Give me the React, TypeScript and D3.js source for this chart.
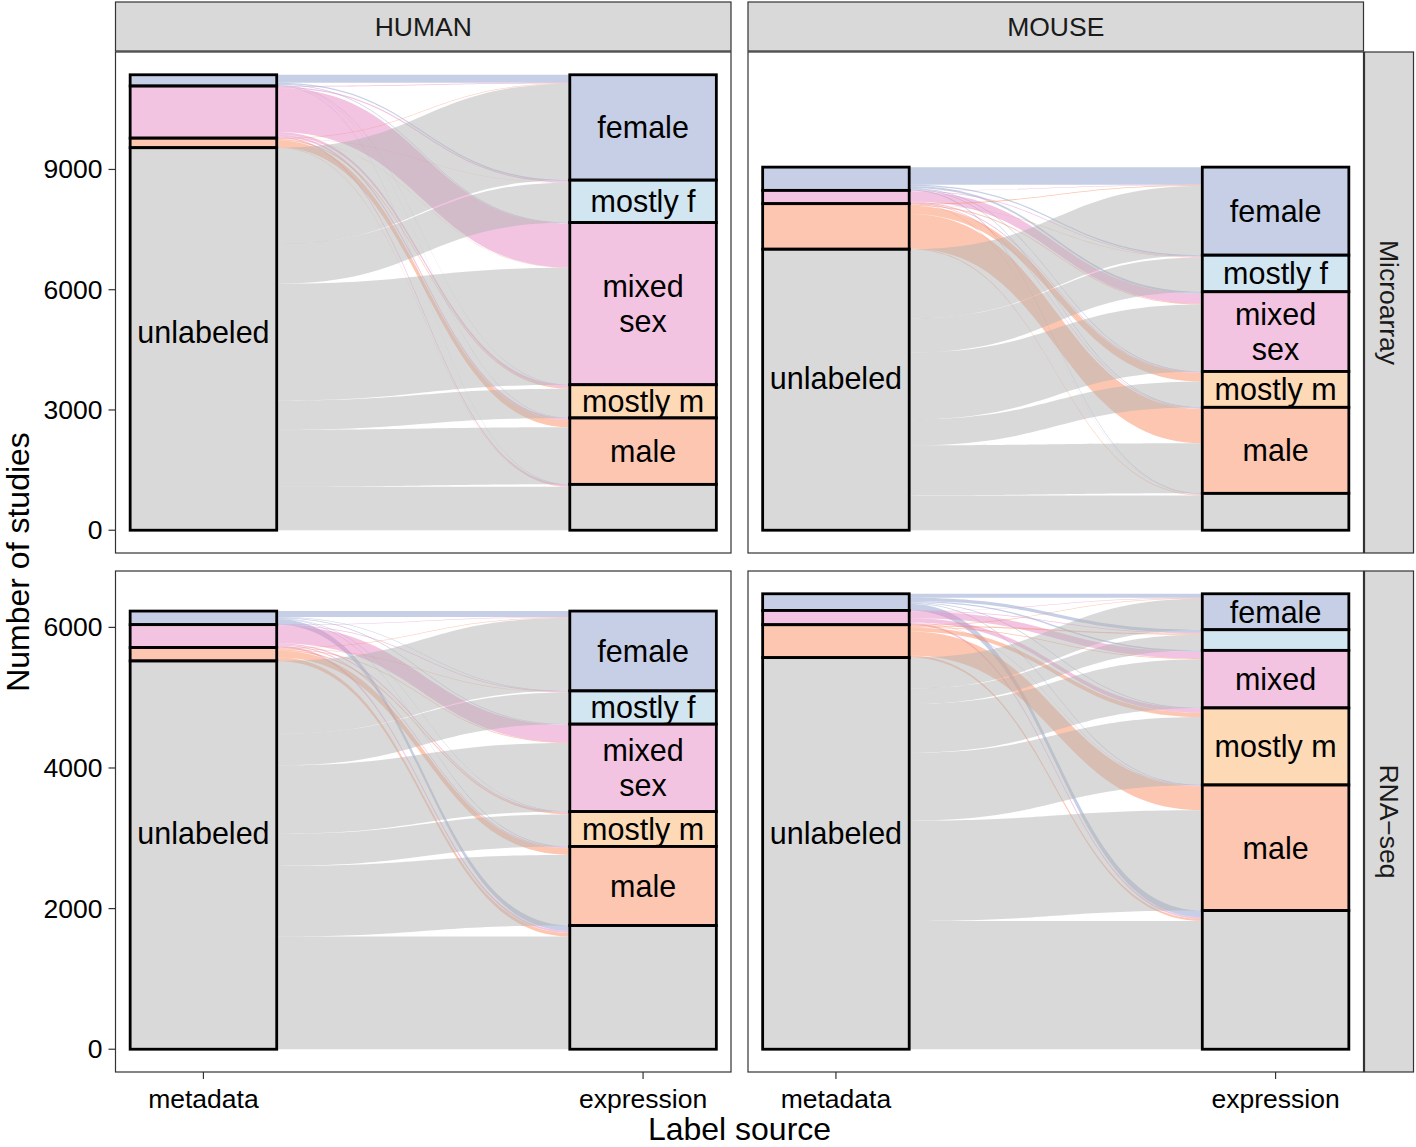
import React from "react";
import * as d3 from "d3";

// ---------- data ----------
const metadataCategories = ["female", "mixed sex", "male", "unlabeled"];
const expressionCategories = ["female", "mostly f", "mixed sex", "mostly m", "male", "unlabeled"];
const speciesNames = ["HUMAN", "MOUSE"];
const platformNames = ["Microarray", "RNA\u2212seq"];
const axisNames = ["metadata", "expression"];

// flows: rows = metadata stratum, columns = expression stratum
const humanMicroarrayFlows = [
  [200, 30, 20, 10, 10, 10],
  [20, 30, 1100, 60, 50, 40],
  [10, 5, 10, 30, 174, 10],
  [2398, 994, 2915, 728, 1424, 1084],
];
const mouseMicroarrayFlows = [
  [440, 30, 50, 20, 20, 20],
  [10, 20, 250, 20, 20, 11],
  [20, 10, 20, 210, 856, 20],
  [1726, 852, 1669, 645, 1250, 869],
];
const humanRnaseqFlows = [
  [85, 8, 10, 5, 10, 75],
  [5, 11, 250, 15, 15, 30],
  [8, 5, 10, 20, 95, 52],
  [1037, 449, 974, 456, 1005, 1602],
];
const mouseRnaseqFlows = [
  [57, 45, 20, 10, 10, 95],
  [5, 10, 95, 60, 10, 23],
  [10, 18, 10, 60, 340, 30],
  [439, 221, 693, 966, 1427, 1824],
];

const microarrayTicks = [0, 3000, 6000, 9000];
const rnaseqTicks = [0, 2000, 4000, 6000];

const metadataLabels = ["", "", "", "unlabeled"];
const expressionLabels = ["female", "mostly f", "mixed\nsex", "mostly m", "male", ""];
const expressionLabelsMouseRnaseq = ["female", "", "mixed", "mostly m", "male", ""];

const categoryColors: Record<string, string> = {
  female: "#8DA0CB",
  "mostly f": "#A6CEE3",
  "mixed sex": "#E78AC3",
  "mostly m": "#FBB36B",
  male: "#FC8D62",
  unlabeled: "#B3B3B3",
};

// ---------- layout ----------
const W = 1416;
const H = 1147;
const FONT = "'Liberation Sans', Arial, Helvetica, sans-serif";
const colLeft = [115.5, 748];
const panelW = 615.5;
const rowTop = [52, 571];
const panelH = 501;
const stripSize = 49;

type Panel = {
  row: number;
  col: number;
  flows: number[][];
  exprLabels: string[];
  metaLabelNudge: number; // px, vertical nudge of the metadata label
};

const panels: Panel[] = [
  { row: 0, col: 0, flows: humanMicroarrayFlows, exprLabels: expressionLabels, metaLabelNudge: -7 },
  { row: 0, col: 1, flows: mouseMicroarrayFlows, exprLabels: expressionLabels, metaLabelNudge: -12 },
  { row: 1, col: 0, flows: humanRnaseqFlows, exprLabels: expressionLabels, metaLabelNudge: -22 },
  { row: 1, col: 1, flows: mouseRnaseqFlows, exprLabels: expressionLabelsMouseRnaseq, metaLabelNudge: -20 },
];
const rowTicks = [microarrayTicks, rnaseqTicks];

const sum = (a: number[]) => a.reduce((s, v) => s + v, 0);
const panelTotal = (f: number[][]) => sum(f.map((r) => sum(r)));

const rowMax = [0, 1].map((r) =>
  d3.max(panels.filter((p) => p.row === r), (p) => panelTotal(p.flows)) as number
);
const yScales = [0, 1].map((r) =>
  d3
    .scaleLinear()
    .domain([-0.05 * rowMax[r], 1.05 * rowMax[r]])
    .range([rowTop[r] + panelH, rowTop[r]])
);
const xScales = [0, 1].map((c) =>
  d3.scaleLinear().domain([0.8, 2.2]).range([colLeft[c], colLeft[c] + panelW])
);
const boxWidthUnits = 1 / 3;

function ribbon(x0: number, x1: number, s0: number, s1: number, d0: number, d1: number) {
  const xm = (x0 + x1) / 2;
  return `M${x0},${s0}C${xm},${s0} ${xm},${d0} ${x1},${d0}L${x1},${d1}C${xm},${d1} ${xm},${s1} ${x0},${s1}Z`;
}

// stacked strata: first category at top
function strataBounds(values: number[]) {
  const out: { top: number; bottom: number }[] = [];
  let acc = sum(values);
  for (const v of values) {
    out.push({ top: acc, bottom: acc - v });
    acc -= v;
  }
  return out;
}

function PanelView({ p }: { p: Panel }) {
  const y = yScales[p.row];
  const x = xScales[p.col];
  const metaTotals = p.flows.map((r) => sum(r));
  const exprTotals = expressionCategories.map((_, j) => sum(p.flows.map((r) => r[j])));
  const metaB = strataBounds(metaTotals);
  const exprB = strataBounds(exprTotals);
  const mx = x(1);
  const ex = x(2);
  const halfW = (x(1 + boxWidthUnits) - x(1)) / 2;
  const x0 = mx + halfW;
  const x1 = ex - halfW;

  const ribbons: { d: string; color: string }[] = [];
  p.flows.forEach((row, i) => {
    row.forEach((v, j) => {
      if (v <= 0) return;
      const sTop = metaB[i].top - sum(row.slice(0, j));
      const dTop = exprB[j].top - sum(p.flows.slice(0, i).map((r) => r[j]));
      ribbons.push({
        d: ribbon(x0, x1, y(sTop), y(sTop - v), y(dTop), y(dTop - v)),
        color: categoryColors[metadataCategories[i]],
      });
    });
  });

  const labelSize = 30.5;
  const renderLabel = (text: string, cx: number, cy: number, key: string) => {
    if (!text) return null;
    const lines = text.split("\n");
    const lh = 35;
    return (
      <text
        key={key}
        x={cx}
        textAnchor="middle"
        fontFamily={FONT}
        fontSize={labelSize}
        fill="#000"
      >
        {lines.map((ln, k) => (
          <tspan key={k} x={cx} y={cy + (k - (lines.length - 1) / 2) * lh} dominantBaseline="central">
            {ln}
          </tspan>
        ))}
      </text>
    );
  };

  return (
    <g>
      <rect
        x={colLeft[p.col]}
        y={rowTop[p.row]}
        width={panelW}
        height={panelH}
        fill="#FFFFFF"
      />
      <g>
        {ribbons.map((r, k) => (
          <path key={k} d={r.d} fill={r.color} fillOpacity={0.5} stroke="none" />
        ))}
      </g>
      {metaB.map((b, i) => (
        <rect
          key={"m" + i}
          x={mx - halfW}
          y={y(b.top)}
          width={halfW * 2}
          height={y(b.bottom) - y(b.top)}
          fill={categoryColors[metadataCategories[i]]}
          fillOpacity={0.5}
          stroke="#000"
          strokeWidth={2.8}
        />
      ))}
      {exprB.map((b, j) => (
        <rect
          key={"e" + j}
          x={ex - halfW}
          y={y(b.top)}
          width={halfW * 2}
          height={y(b.bottom) - y(b.top)}
          fill={categoryColors[expressionCategories[j]]}
          fillOpacity={0.5}
          stroke="#000"
          strokeWidth={2.8}
        />
      ))}
      {metaB.map((b, i) =>
        renderLabel(metadataLabels[i], mx, (y(b.top) + y(b.bottom)) / 2 + p.metaLabelNudge, "ml" + i)
      )}
      {exprB.map((b, j) => renderLabel(p.exprLabels[j], ex, (y(b.top) + y(b.bottom)) / 2, "el" + j))}
      <rect
        x={colLeft[p.col]}
        y={rowTop[p.row]}
        width={panelW}
        height={panelH}
        fill="none"
        stroke="#333333"
        strokeWidth={1.2}
      />
    </g>
  );
}

export default function App() {
  const axisText = 26.5;
  const midY = (rowTop[0] + rowTop[1] + panelH) / 2;
  return (
    <svg
      width={W}
      height={H}
      viewBox={`0 0 ${W} ${H}`}
      style={{ position: "absolute", left: 0, top: 0, background: "#fff" }}
    >
      <rect x={0} y={0} width={W} height={H} fill="#fff" />
      {panels.map((p, k) => (
        <PanelView key={k} p={p} />
      ))}

      {/* top strips */}
      {speciesNames.map((s, c) => (
        <g key={s}>
          <rect
            x={colLeft[c]}
            y={rowTop[0] - stripSize - 1}
            width={panelW}
            height={stripSize}
            fill="#D9D9D9"
            stroke="#333333"
            strokeWidth={1.2}
          />
          <text
            x={colLeft[c] + panelW / 2}
            y={rowTop[0] - 1 - stripSize / 2}
            textAnchor="middle"
            dominantBaseline="central"
            fontFamily={FONT}
            fontSize={26.5}
            fill="#1A1A1A"
          >
            {s}
          </text>
        </g>
      ))}

      {/* right strips */}
      {platformNames.map((s, r) => {
        const sx = colLeft[1] + panelW + 1;
        const cy = rowTop[r] + panelH / 2;
        const cx = sx + stripSize / 2;
        return (
          <g key={s}>
            <rect
              x={sx}
              y={rowTop[r]}
              width={stripSize}
              height={panelH}
              fill="#D9D9D9"
              stroke="#333333"
              strokeWidth={1.2}
            />
            <text
              x={cx}
              y={cy}
              textAnchor="middle"
              dominantBaseline="central"
              fontFamily={FONT}
              fontSize={26.5}
              fill="#1A1A1A"
              transform={`rotate(90, ${cx}, ${cy})`}
            >
              {s}
            </text>
          </g>
        );
      })}

      {/* y axes */}
      {[0, 1].map((r) => (
        <g key={"ya" + r}>
          {rowTicks[r].map((t) => (
            <g key={t}>
              <line
                x1={colLeft[0] - 7}
                x2={colLeft[0]}
                y1={yScales[r](t)}
                y2={yScales[r](t)}
                stroke="#333333"
                strokeWidth={1.2}
              />
              <text
                x={colLeft[0] - 13}
                y={yScales[r](t)}
                textAnchor="end"
                dominantBaseline="central"
                fontFamily={FONT}
                fontSize={axisText}
                fill="#000"
              >
                {d3.format("d")(t)}
              </text>
            </g>
          ))}
        </g>
      ))}

      {/* x axes */}
      {[0, 1].map((c) => (
        <g key={"xa" + c}>
          {axisNames.map((a, k) => {
            const px = xScales[c](k + 1);
            const base = rowTop[1] + panelH;
            return (
              <g key={a}>
                <line x1={px} x2={px} y1={base} y2={base + 7} stroke="#333333" strokeWidth={1.2} />
                <text
                  x={px}
                  y={base + 36}
                  textAnchor="middle"
                  fontFamily={FONT}
                  fontSize={axisText}
                  fill="#000"
                >
                  {a}
                </text>
              </g>
            );
          })}
        </g>
      ))}

      {/* axis titles */}
      <text
        x={(colLeft[0] + colLeft[1] + panelW) / 2}
        y={1140}
        textAnchor="middle"
        fontFamily={FONT}
        fontSize={32}
        fill="#000"
      >
        Label source
      </text>
      <text
        x={29}
        y={midY}
        textAnchor="middle"
        fontFamily={FONT}
        fontSize={32}
        fill="#000"
        transform={`rotate(-90, 29, ${midY})`}
      >
        Number of studies
      </text>
    </svg>
  );
}
